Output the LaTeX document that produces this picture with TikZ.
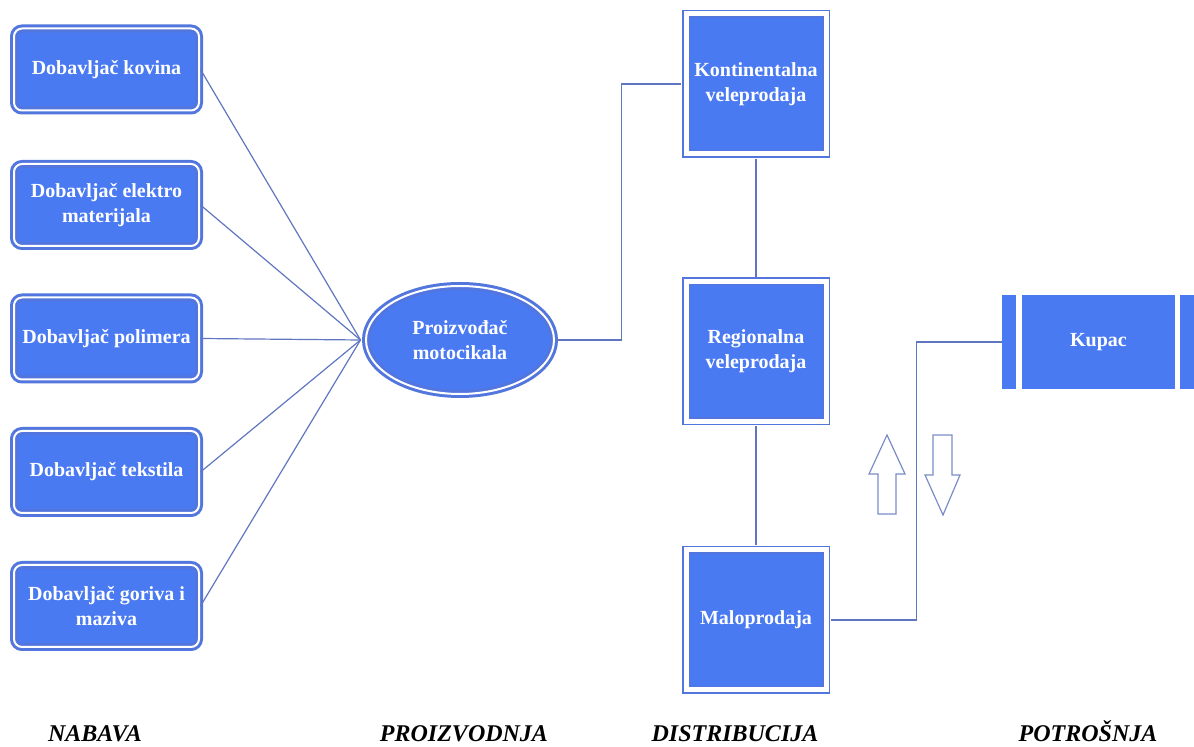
\documentclass[tikz,border=0pt]{standalone}
\usepackage{fontspec}
\setmainfont{Liberation Serif}
\usepackage{tikz}
\usetikzlibrary{shapes,positioning}
\usepackage{xcolor}
\definecolor{boxblue}{RGB}{74,122,242}
\definecolor{rimblue}{RGB}{82,118,222}
\definecolor{lineblue}{RGB}{96,118,192}
\definecolor{arrowgray}{RGB}{122,140,196}
\tikzstyle{supplier} = [rounded corners=4pt, fill=boxblue, draw=rimblue, line width=1.5pt, double=white, double distance=1pt, minimum width=92.5pt, minimum height=41pt, inner sep=0pt, text=white, font=\fontsize{10}{12.5}\selectfont\bfseries, align=center]
\tikzstyle{maker} = [ellipse, fill=boxblue, draw=rimblue, line width=1.5pt, double=white, double distance=1pt, minimum width=94pt, minimum height=54pt, inner sep=0pt, text=white, font=\fontsize{10}{12.5}\selectfont\bfseries, align=center]
\tikzstyle{dist} = [rectangle, fill=boxblue, draw=rimblue, line width=0.75pt, double=white, double distance=2.5pt, minimum width=70pt, minimum height=70pt, inner sep=0pt, text=white, font=\fontsize{10}{12.5}\selectfont\bfseries, align=center]
\tikzstyle{buyer} = [rectangle, fill=boxblue, minimum width=76.5pt, minimum height=47pt, inner sep=0pt, text=white, font=\fontsize{10}{12.5}\selectfont\bfseries]
\tikzstyle{buyerbar} = [rectangle, fill=boxblue, minimum width=7pt, minimum height=47pt, inner sep=0pt]
\tikzstyle{link} = [line width=0.6pt, color=lineblue]
\tikzstyle{phase} = [anchor=base, font=\fontsize{12}{14}\selectfont\bfseries\itshape]

\begin{document}
\begin{tikzpicture}[x=0.5pt, y=-0.5pt]
\useasboundingbox (0,0) rectangle (1194,747);

% Suppliers
\node[supplier] (kovina) at (106.5,69.5) {Dobavljač kovina};
\node[supplier] (elektro) at (106.5,205) {Dobavljač elektro\\materijala};
\node[supplier] (polimer) at (106.5,338.5) {Dobavljač polimera};
\node[supplier] (tekstil) at (106.5,472) {Dobavljač tekstila};
\node[supplier] (gorivo) at (106.5,606) {Dobavljač goriva i\\maziva};

% Producer
\node[maker] (proizv) at (460,340) {Proizvođač\\motocikala};

% Distribution
\node[dist] (kont) at (756,84) {Kontinentalna\\veleprodaja};
\node[dist] (reg) at (756,351.5) {Regionalna\\veleprodaja};
\node[dist] (malo) at (756,620) {Maloprodaja};

% Buyer
\node[buyer] (kupac) at (1098.5,342) {Kupac};
\node[buyerbar] (kupacL) at (1009,342) {};
\node[buyerbar] (kupacR) at (1186.5,342) {};

% Links
\foreach \s in {kovina,elektro,polimer,tekstil,gorivo}
  \draw[link] (\s.east) -- ([xshift=-2pt]proizv.west);
\draw[link, shorten >=2pt] (proizv.east) -- ++(66,0) |- (kont.west);
\draw[link, shorten <=2pt, shorten >=2pt] (kont.south) -- (reg.north);
\draw[link, shorten <=2pt, shorten >=2pt] (reg.south) -- (malo.north);
\draw[link, shorten <=2pt] (malo.east) -- ++(90,0) |- (kupacL.west);

% Up and down arrows
\draw[line width=0.6pt, arrowgray] (878,514) -- (878,474) -- (869,474) -- (887,435) -- (905,474) -- (896,474) -- (896,514) -- cycle;
\draw[line width=0.6pt, arrowgray] (933,435) -- (952,435) -- (952,475) -- (960,475) -- (943,515) -- (925,475) -- (933,475) -- cycle;

% Phases
\node[phase] (nabava) at (95,742) {NABAVA};
\node[phase] (proizvodnja) at (464,742) {PROIZVODNJA};
\node[phase] (distribucija) at (735,742) {DISTRIBUCIJA};
\node[phase] (potrosnja) at (1088,742) {POTROŠNJA};
\end{tikzpicture}
\end{document}
